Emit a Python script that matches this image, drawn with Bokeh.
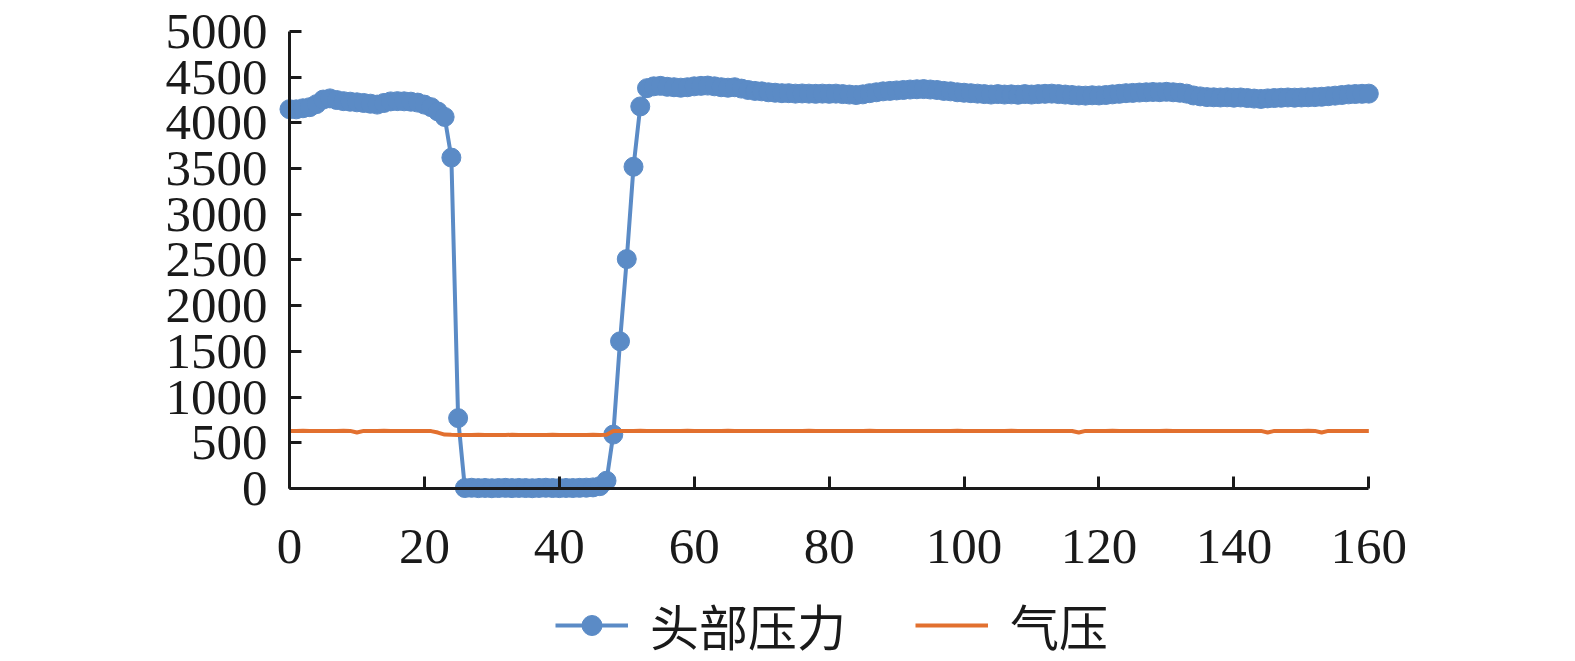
from bokeh.plotting import figure
from bokeh.models import Range1d, FixedTicker, Legend, LegendItem, LinearAxis, Grid
from bokeh.embed import file_html
from bokeh.resources import INLINE

x_vals = list(range(161))

head_pressure = [
    4150, 4148, 4160, 4172, 4205, 4255, 4268, 4250, 4238, 4232,
    4225, 4218, 4210, 4200, 4218, 4235, 4238, 4236, 4232, 4222,
    4200, 4172, 4125, 4065, 3620, 770, 5, 8, 4, 6,
    3, 5, 7, 4, 6, 5, 3, 6, 8, 5,
    4, 6, 5, 7, 9, 12, 25, 85, 590, 1610,
    2510, 3520, 4180, 4380, 4400, 4405, 4395, 4390, 4385, 4390,
    4400, 4405, 4408, 4400, 4390, 4385, 4390, 4375, 4360, 4350,
    4345, 4335, 4330, 4325, 4325, 4320, 4322, 4320, 4318, 4320,
    4318, 4320, 4315, 4310, 4305, 4312, 4325, 4335, 4345, 4350,
    4355, 4360, 4365, 4368, 4370, 4365, 4360, 4350, 4345, 4335,
    4330, 4325, 4320, 4315, 4310, 4315, 4310, 4312, 4308, 4315,
    4310, 4315, 4318, 4320, 4315, 4310, 4305, 4300, 4298, 4302,
    4300, 4305, 4312, 4318, 4325, 4328, 4332, 4335, 4338, 4336,
    4340, 4335, 4330, 4320, 4300, 4290, 4282, 4280, 4278, 4280,
    4276, 4278, 4272, 4266, 4262, 4268, 4272, 4275, 4278, 4276,
    4278, 4280, 4282, 4286, 4292, 4298, 4305, 4312, 4316, 4318,
    4320,
]

air_pressure = [
    630, 630, 631, 630, 630, 629, 630, 630, 631, 630,
    612, 630, 630, 630, 631, 630, 630, 630, 629, 630,
    630, 628, 612, 590, 587, 586, 586, 586, 587, 586,
    586, 586, 586, 587, 586, 586, 586, 586, 586, 587,
    586, 586, 586, 586, 586, 587, 586, 588, 628, 630,
    630, 630, 631, 630, 630, 630, 630, 630, 630, 631,
    630, 630, 630, 630, 630, 631, 630, 630, 630, 630,
    630, 630, 629, 630, 630, 630, 630, 631, 630, 630,
    630, 630, 630, 630, 630, 630, 631, 630, 630, 630,
    630, 630, 630, 629, 630, 630, 630, 630, 630, 631,
    630, 630, 630, 630, 630, 630, 630, 631, 630, 630,
    630, 630, 630, 630, 630, 630, 629, 612, 630, 630,
    630, 630, 631, 630, 630, 630, 630, 630, 630, 630,
    631, 630, 630, 630, 630, 630, 630, 630, 629, 630,
    630, 630, 630, 630, 630, 612, 630, 630, 630, 630,
    630, 631, 630, 612, 630, 630, 630, 630, 630, 630,
    630,
]

x_ticks = [0, 20, 40, 60, 80, 100, 120, 140, 160]
y_ticks = [0, 500, 1000, 1500, 2000, 2500, 3000, 3500, 4000, 4500, 5000]
series_names = ["头部压力", "气压"]

BLUE = "#5B8BC6"
ORANGE = "#E2702F"
INK = "#1a1a1a"

# frame spans the whole canvas; axes are pinned at x=0 / y=0 inside it
p = figure(width=1575, height=660, output_backend="svg", toolbar_location=None,
           x_range=Range1d(-20.6, 167.66), y_range=Range1d(-1882, 5339),
           x_axis_location=None, y_axis_location=None,
           min_border_left=150, min_border_right=155, min_border_top=0,
           min_border_bottom=0)
p.outline_line_color = None
p.background_fill_color = "white"
for r in list(p.center):
    if isinstance(r, Grid):
        r.visible = False

# y axis at x = 0
ya = LinearAxis(ticker=FixedTicker(ticks=y_ticks), fixed_location=0,
                bounds=(0, 5000), axis_line_width=3, axis_line_color=INK,
                major_tick_line_width=3, major_tick_line_color=INK,
                minor_tick_line_color=None, major_tick_in=12, major_tick_out=0,
                major_label_standoff=22,
                major_label_text_font="Liberation Serif",
                major_label_text_font_size="51px", major_label_text_color=INK)
p.add_layout(ya, "left")

# x axis at y = 0, labels pushed below the line
xa = LinearAxis(ticker=FixedTicker(ticks=x_ticks), fixed_location=0,
                bounds=(0, 160), axis_line_width=3, axis_line_color=INK,
                major_tick_line_width=3, major_tick_line_color=INK,
                minor_tick_line_color=None, major_tick_in=0, major_tick_out=12,
                major_label_standoff=-87,
                major_label_text_font="Liberation Serif",
                major_label_text_font_size="51px", major_label_text_color=INK)
p.add_layout(xa, "above")

r_line = p.line(x_vals, head_pressure, line_color=BLUE, line_width=4)
r_sc = p.scatter(x_vals, head_pressure, size=19, fill_color=BLUE, line_color=BLUE)
r_air = p.line(x_vals, air_pressure, line_color=ORANGE, line_width=4)

legend = Legend(
    items=[LegendItem(label=series_names[0], renderers=[r_line, r_sc]),
           LegendItem(label=series_names[1], renderers=[r_air])],
    orientation="horizontal", location=(405, 0),
    glyph_width=73, glyph_height=50, label_standoff=22, spacing=69,
    padding=0, margin=0, border_line_color=None, background_fill_alpha=0,
    label_text_font="Noto Sans CJK SC", label_text_font_size="49px",
    label_text_color=INK,
)
p.add_layout(legend)

open("out.html", "w").write(file_html(p, INLINE))
